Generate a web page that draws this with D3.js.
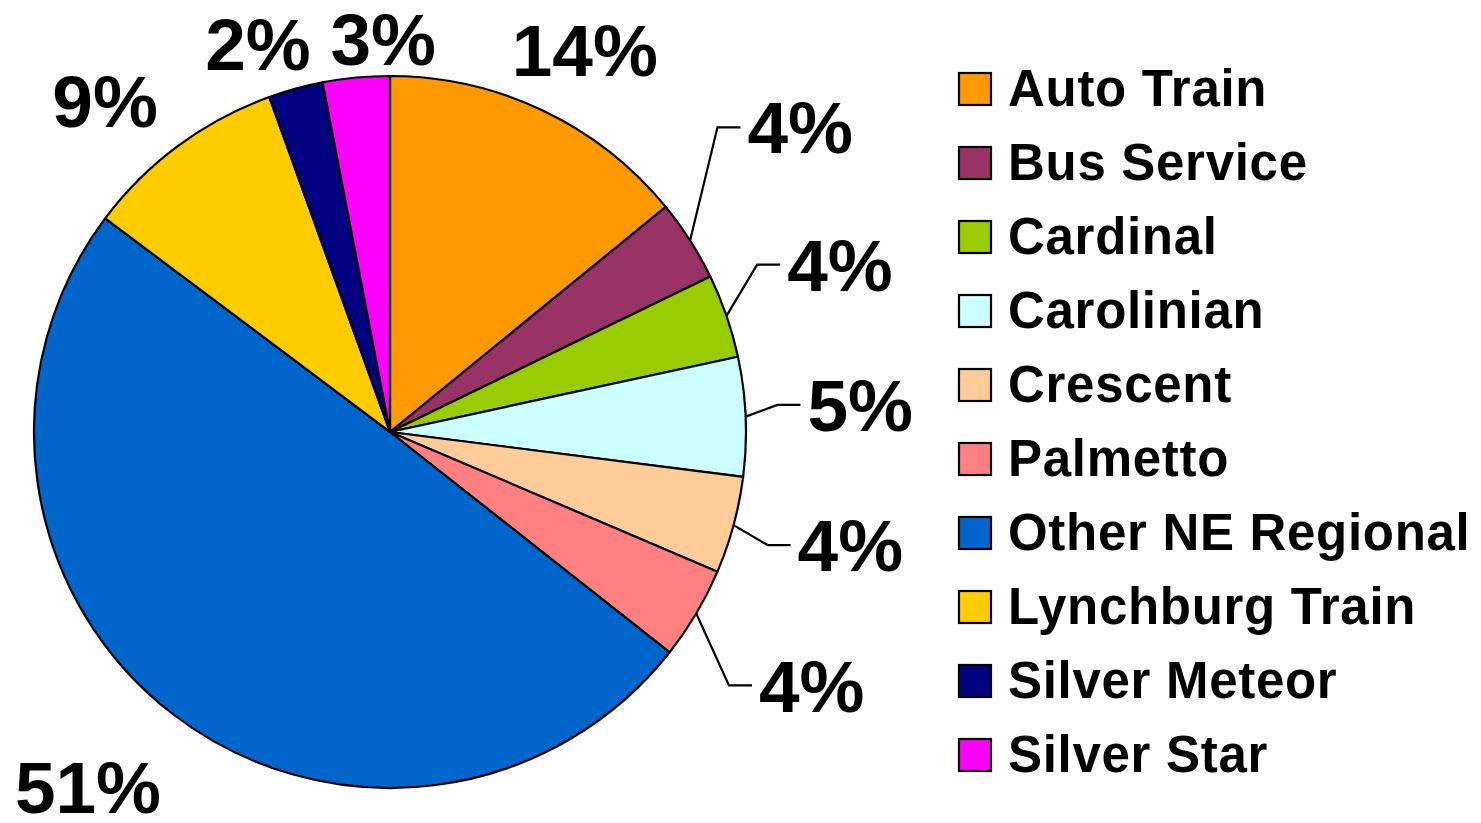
<!DOCTYPE html>
<html>
<head>
<meta charset="utf-8">
<script src="https://cdn.jsdelivr.net/npm/d3@7"></script>
<style>
  html, body { margin: 0; padding: 0; background: #fff; }
  svg text { font-family: "Liberation Sans", Arial, sans-serif; font-weight: bold; fill: #000; }
</style>
</head>
<body>
<svg id="chart" width="1481" height="823"></svg>
<script>
// ---- data ----
const categories = ["Auto Train", "Bus Service", "Cardinal", "Carolinian", "Crescent",
                    "Palmetto", "Other NE Regional", "Lynchburg Train", "Silver Meteor", "Silver Star"];
const shares = [14.1, 3.7, 3.8, 5.4, 4.4, 4.2, 49.6, 9.25, 2.47, 3.03];
const percentLabels = ["14%", "4%", "4%", "5%", "4%", "4%", "51%", "9%", "2%", "3%"];
const colors = ["#FF9900", "#993366", "#99CC00", "#CCFFFF", "#FFCC99",
                "#FF8080", "#0066CC", "#FFCC00", "#000080", "#FF00FF"];

// ---- layout ----
const cx = 390, cy = 432, R = 356;
// label placement (angle in degrees clockwise from top, radial distance)
const labelAngle = [27.0, 53.4, 69.6, 86.7, 103.8, 121.0, 220.4, 319.3, 341.2, 359.0];
const labelDist  = [429, 511, 480, 471, 474, 492, 466, 437, 410, 393];
const hasLeader  = [false, true, true, true, true, true, false, false, false, false];

const svg = d3.select("#chart");
const g = svg.append("g").attr("transform", `translate(${cx},${cy})`);

const pie = d3.pie().sort(null).value(d => d)(shares);
const arc = d3.arc().innerRadius(0).outerRadius(R);

g.selectAll("path.slice").data(pie).join("path")
  .attr("class", "slice")
  .attr("d", arc)
  .attr("fill", (d, i) => colors[i])
  .attr("stroke", "#000")
  .attr("stroke-width", 2.2)
  .attr("stroke-linejoin", "round");

const polar = (deg, r) => {
  const a = deg * Math.PI / 180;
  return [r * Math.sin(a), -r * Math.cos(a)];
};

const fontSize = 73, capH = fontSize * 0.716;
pie.forEach((d, i) => {
  const [lx, ly] = polar(labelAngle[i], labelDist[i]);
  const t = g.append("text")
    .attr("x", lx).attr("y", ly + capH / 2)
    .attr("text-anchor", "middle")
    .attr("font-size", fontSize)
    .text(percentLabels[i]);
  if (hasLeader[i]) {
    const w = t.node().getComputedTextLength();
    const mid = (d.startAngle + d.endAngle) / 2 * 180 / Math.PI;
    const p0 = polar(mid, R);
    const endX = lx - w / 2 - 7;
    const elbowX = endX - 23;
    g.append("path")
      .attr("d", d3.line()([p0, [elbowX, ly], [endX, ly]]))
      .attr("fill", "none")
      .attr("stroke", "#000")
      .attr("stroke-width", 2.2);
  }
});

// ---- legend ----
const legendX = 959, legendTop = 73, rowStep = 74, box = 32;
const legend = svg.append("g");
categories.forEach((c, i) => {
  const y = legendTop + i * rowStep;
  legend.append("rect")
    .attr("x", legendX).attr("y", y)
    .attr("width", box).attr("height", box)
    .attr("fill", colors[i])
    .attr("stroke", "#000").attr("stroke-width", 2.2);
  legend.append("text")
    .attr("x", legendX + 49).attr("y", y + box + 1)
    .attr("font-size", 51)
    .attr("letter-spacing", 0.7)
    .text(c);
});
</script>
</body>
</html>
